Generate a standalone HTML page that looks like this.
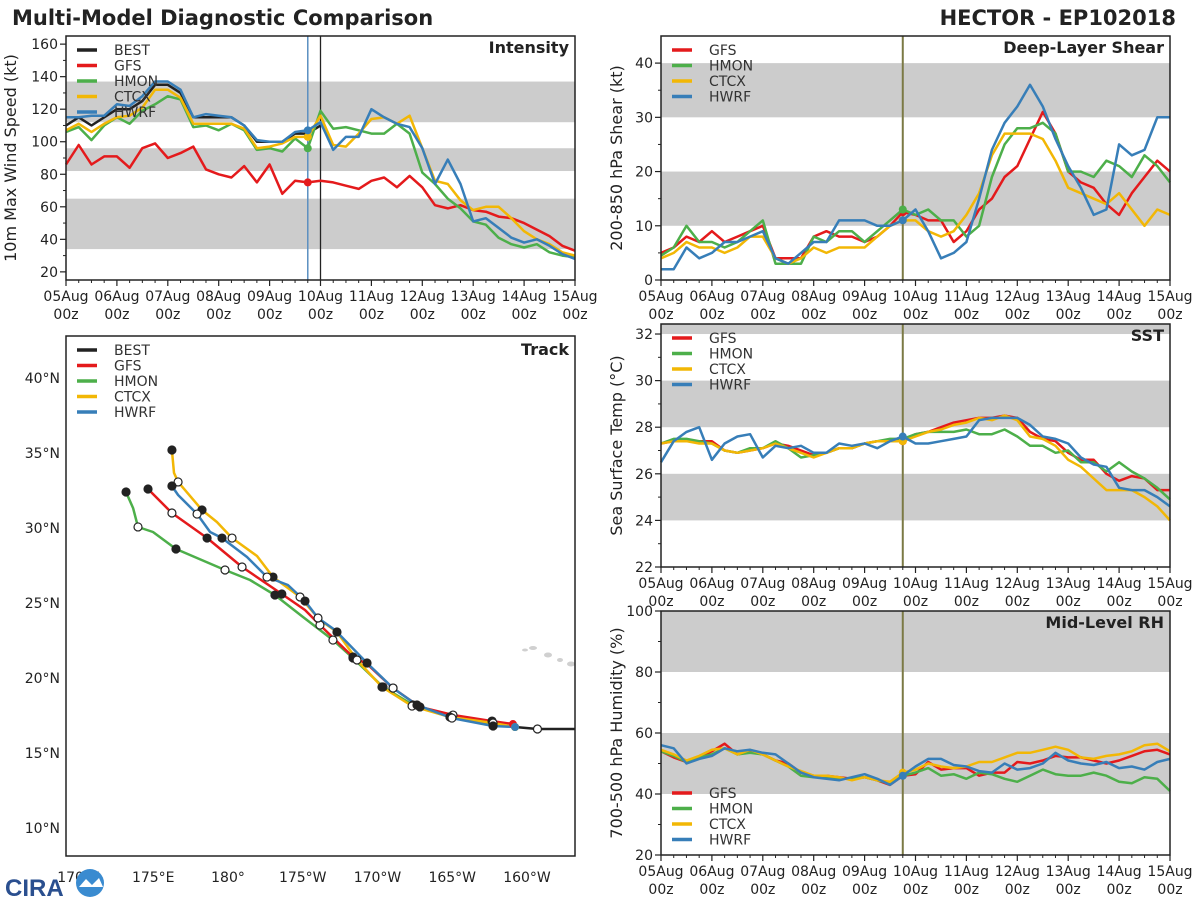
<!DOCTYPE html>
<html><head><meta charset="utf-8"><style>
body{margin:0;background:#fff;}
svg{display:block;font-family:"DejaVu Sans","Liberation Sans",sans-serif;}
</style></head><body>
<svg id="chart" width="1200" height="900" viewBox="0 0 1200 900" xmlns="http://www.w3.org/2000/svg">
<text x="12" y="25" font-size="21" font-weight="bold" fill="#222">Multi-Model Diagnostic Comparison</text>
<text x="1176" y="25" font-size="21" font-weight="bold" fill="#222" text-anchor="end">HECTOR - EP102018</text>
<g id="root"></g>
<g>
<text x="5" y="896" font-size="24" font-weight="bold" fill="#2a4f8f" font-family="Liberation Sans, sans-serif">CIRA</text>
<circle cx="90" cy="883" r="14" fill="#3a8bd0"/>
<path d="M79 887 L86 879 L92 885 L99 878 L103 887 Z" fill="#fff"/>
</g>
</svg>
<script>
const days=['05Aug','06Aug','07Aug','08Aug','09Aug','10Aug','11Aug','12Aug','13Aug','14Aug','15Aug'];
const models=['GFS','HMON','CTCX','HWRF'];
const colors={BEST:'#222222',GFS:'#e41a1c',HMON:'#4daf4a',CTCX:'#f2b705',HWRF:'#377eb8'};
const nowIndex=19;
// Intensity (kt)
const intBEST=[110,115,110,115,120,120,125,135,135,130,115,115,115,115,110,100,100,100,105,105,110];
const intGFS=[86,98,86,91,91,84,96,99,90,93,97,83,80,78,85,75,86,68,76,75,76,75,73,71,76,78,72,79,72,61,59,61,58,57,54,53,50,46,42,36,33];
const intHMON=[106,109,101,110,115,111,119,123,128,126,109,110,107,111,107,95,96,94,102,96,119,108,109,107,105,105,111,105,81,74,65,59,51,49,41,37,35,37,32,30,29];
const intCTCX=[107,111,106,111,115,116,121,132,132,127,111,111,111,111,108,96,97,99,103,103,116,98,97,105,114,115,111,116,96,76,74,64,58,60,60,53,45,40,37,32,30];
const intHWRF=[115,115,116,116,123,122,128,137,137,132,115,117,116,115,110,101,100,100,106,107,112,95,103,103,120,115,111,109,96,74,89,74,51,53,47,41,38,40,36,31,28];
const intTicks=[20,40,60,80,100,120,140,160];
// Shear (kt)
const shrGFS=[5,6,8,7,9,7,8,9,10,4,4,4,8,9,8,8,7,8,10,12.5,12,11,11,7,9,13,15,19,21,26,31,27,20,18,17,14,12,16,19,22,20];
const shrHMON=[4.5,6,10,7,7,6,7,9,11,3,3,3,8,7,9,9,7,9,11,13,12,13,11,11,8,10,19,25,28,28,29,27,20,20,19,22,21,19,23,21,18];
const shrCTCX=[4,5,7,6,6,5,6,8,8,4,3,4,6,5,6,6,6,8,10,11,11,9,8,9,12,16,23,27,27,27,26,22,17,16,15,14,16,13,10,13,12];
const shrHWRF=[2,2,6,4,5,7,7,8,9,4,3,5,7,7,11,11,11,10,10,11,13,9,4,5,7,15,24,29,32,36,32,26,21,17,12,13,25,23,24,30,30];
const shrTicks=[0,10,20,30,40];
// SST (C)
const sstGFS=[27.3,27.4,27.4,27.4,27.4,27.0,26.9,27.0,27.1,27.3,27.2,27.0,26.8,26.9,27.1,27.1,27.3,27.4,27.4,27.4,27.7,27.8,28.0,28.2,28.3,28.4,28.4,28.5,28.4,27.8,27.5,27.4,26.9,26.6,26.6,26.0,25.7,25.9,25.8,25.3,25.3];
const sstHMON=[27.3,27.5,27.5,27.4,27.3,27.0,26.9,27.1,27.1,27.4,27.1,26.7,26.8,26.9,27.1,27.1,27.3,27.4,27.5,27.5,27.7,27.8,27.8,27.8,27.9,27.7,27.7,27.9,27.6,27.2,27.2,26.9,27.0,26.5,26.5,26.1,26.5,26.1,25.8,25.4,24.9];
const sstCTCX=[27.3,27.4,27.4,27.3,27.3,27.0,26.9,27.0,27.1,27.3,27.1,26.9,26.7,26.9,27.1,27.1,27.3,27.4,27.4,27.4,27.6,27.8,27.9,28.1,28.2,28.4,28.3,28.5,28.3,27.6,27.5,27.2,26.6,26.3,25.8,25.3,25.3,25.3,25.0,24.6,24.0];
const sstHWRF=[26.5,27.4,27.8,28.0,26.6,27.3,27.6,27.7,26.7,27.2,27.1,27.2,26.9,26.9,27.3,27.2,27.3,27.1,27.4,27.6,27.3,27.3,27.4,27.5,27.6,28.3,28.4,28.4,28.4,28.1,27.6,27.5,27.3,26.7,26.4,26.3,25.4,25.3,25.3,25.0,24.6];
const sstTicks=[22,24,26,28,30,32];
// RH (%)
const rhGFS=[54,52,50.5,52,54,56.5,53,54,53,51,50,47,46,46,45.5,45,45.5,44.5,43,46,46.5,50.5,48,48.5,48.5,46,47,47,50.5,50,51,52.5,52,52,51,50,51,52.5,54,54.5,53];
const rhHMON=[54,52.5,50.5,52,53,55,53,53.5,53,51,49,46,45.5,45.5,45,45,45.5,44.5,43.5,46,47,48.5,46,46.5,45,47,46.5,45,44,46,48,46.5,46,46,47,46,44,43.5,45.5,45,41];
const rhCTCX=[54.5,53,51,52.5,54.5,55,53,54.5,53,51,49,47.5,46,46,45.5,44.5,45.5,44.5,44,47,48,50,49,48.5,49,50.5,50.5,52,53.5,53.5,54.5,55.5,54.5,52,51.5,52.5,53,54,56,56.5,54];
const rhHWRF=[56,55,50,51.5,52.5,55,54,54.5,53.5,53,50,47,45.5,45,44.5,45.5,46.5,45,43,46,49,51.5,51.5,49.5,49,47.5,47,50,48,48.5,50,53.5,51,50,49.5,50.5,48.5,49,48,50.5,51.5];
const rhTicks=[20,40,60,80,100];
// Track (lon degE, lat degN)
const trkBESTlon=[199.2,200.7,203.2];
const trkBESTlat=[16.73,16.6,16.6];
const trkGFSlon=[174.65,176.25,178.6,180.94,183.6,185.15,186.15,188.36,189.3,191.04,192.84,195.05,197.66,199.06];
const trkGFSlat=[32.6,31.0,29.33,27.4,25.6,24.53,23.53,21.4,20.93,19.33,18.07,17.53,17.13,16.93];
const trkHMONlon=[173.18,173.65,173.98,174.98,176.52,179.8,181.47,183.14,185.02,187.02,188.36,190.37,192.37,194.85,197.73,199.2];
const trkHMONlat=[32.4,31.33,30.07,29.73,28.6,27.2,26.53,25.53,24.07,22.53,21.33,19.4,18.2,17.4,16.87,16.73];
const trkCTCXlon=[176.25,176.39,176.66,178.26,179.26,180.27,181.94,183.01,184.82,186.15,187.29,188.63,190.3,192.31,194.85,197.73,199.2];
const trkCTCXlat=[35.2,33.67,33.07,31.2,30.4,29.33,28.13,26.73,25.4,23.87,23.07,21.2,19.4,18.13,17.4,17.0,16.73];
const trkHWRFlon=[176.25,176.66,177.93,178.8,179.6,181.27,182.61,184.01,185.15,186.02,187.16,189.3,191.04,192.64,194.98,197.73,199.2];
const trkHWRFlat=[32.8,32.2,30.93,29.73,29.33,28.07,26.73,26.2,25.13,24.0,23.2,21.0,19.33,18.2,17.33,16.8,16.73];
const lonTicks=[170,175,180,185,190,195,200];
const lonLabels=['170°E','175°E','180°','175°W','170°W','165°W','160°W'];
const latTicks=[10,15,20,25,30,35,40];

const NS='http://www.w3.org/2000/svg';
const root=document.getElementById('root');
function mk(tag,attrs,parent){const e=document.createElementNS(NS,tag);for(const k in attrs)e.setAttribute(k,attrs[k]);(parent||root).appendChild(e);return e;}
function txt(s,attrs,parent){const e=mk('text',attrs,parent);e.textContent=s;return e;}

function panel(cfg){
  const g=mk('g',{});
  
  
  const L=cfg.x0,R=cfg.x1,T=cfg.y0,B=cfg.y1;
  const xs=i=>L+(R-L)*i/40;
  const ys=v=>B-(v-cfg.ymin)/(cfg.ymax-cfg.ymin)*(B-T);
  cfg.bands.forEach(b=>{const r=mk('rect',{x:L,y:ys(Math.min(b[1],cfg.ymax)),width:R-L,height:ys(b[0])-ys(Math.min(b[1],cfg.ymax)),fill:'#cccccc'},g);
    });
  cfg.ticks.forEach(t=>{mk('line',{x1:L-6,x2:L,y1:ys(t),y2:ys(t),stroke:'#222','stroke-width':1.2},g);
    const tl=txt(String(t),{x:L-8,y:ys(t)+5,'font-size':14,'text-anchor':'end',fill:'#222'},g);
    });
  for(let k=0;k<cfg.ticks.length-1;k++){const m=(cfg.ticks[k]+cfg.ticks[k+1])/2;mk('line',{x1:L-3,x2:L,y1:ys(m),y2:ys(m),stroke:'#222'},g);}
  for(let i=0;i<=40;i++){const maj=i%4==0;mk('line',{x1:xs(i),x2:xs(i),y1:B,y2:B+(maj?6:3),stroke:'#222','stroke-width':maj?1.2:1},g);
    if(maj&&cfg.xlabels){const a=txt(days[i/4],{x:xs(i),y:B+21,'font-size':14,'text-anchor':'middle',fill:'#222'},g);
      
      txt('00z',{x:xs(i),y:B+39,'font-size':14,'text-anchor':'middle',fill:'#222'},g);}}
  const yl=txt(cfg.ylabel,{x:0,y:0,'font-size':16,'text-anchor':'middle',fill:'#222',transform:`translate(${cfg.ylx},${(T+B)/2}) rotate(-90)`},g);
  
  (cfg.vlines||[]).forEach(v=>{mk('line',{x1:xs(v[0]),x2:xs(v[0]),y1:T,y2:B,stroke:v[1],'stroke-width':v[2]},g);});
  cfg.series.forEach(s=>{
    const pts=s.data.map((v,i)=>xs(i).toFixed(1)+','+ys(v).toFixed(1)).join(' ');
    const pl=mk('polyline',{points:pts,fill:'none',stroke:colors[s.m],'stroke-width':2.5,'stroke-linejoin':'round'},g);
    
    if(s.m!=='BEST'&&s.data.length>nowIndex){const c=mk('circle',{cx:xs(nowIndex),cy:ys(s.data[nowIndex]),r:4,fill:colors[s.m]},g);
      }
  });
  mk('rect',{x:L,y:T,width:R-L,height:B-T,fill:'none',stroke:'#222','stroke-width':1.5},g);
  const tt=txt(cfg.title,{x:R-6,y:T+17,'font-size':16,'font-weight':'bold','text-anchor':'end',fill:'#222'},g);
  
  legend(g,cfg.legend,L+11,cfg.legY,cfg.legSp);
}
function legend(g,names,x,y,sp){
  const lg=mk('g',{},g);
  
  
  names.forEach((n,k)=>{mk('line',{x1:x,x2:x+20,y1:y+k*sp,y2:y+k*sp,stroke:colors[n],'stroke-width':3.5},lg);
    const e=txt(n,{x:x+37,y:y+k*sp+5,'font-size':14,fill:'#333'},lg);
    });
}
const seriesOf=(a,b,c,d)=>[{m:'GFS',data:a},{m:'HMON',data:b},{m:'CTCX',data:c},{m:'HWRF',data:d}];
const olive=[[nowIndex,'#7b7a45',2]];
panel({name:'intensity-panel',x0:66,x1:575,y0:36,y1:280,ymin:15,ymax:165,ticks:intTicks,bands:[[34,65],[82,96],[112,137]],
  ylabel:'10m Max Wind Speed (kt)',ylx:16,title:'Intensity',xlabels:true,
  vlines:[[nowIndex,'#5b8fc0',1.5],[20,'#222',1.3]],
  series:[{m:'BEST',data:intBEST}].concat(seriesOf(intGFS,intHMON,intCTCX,intHWRF)),legend:['BEST','GFS','HMON','CTCX','HWRF'],legY:50,legSp:15.5});
panel({name:'shear-panel',x0:661,x1:1170,y0:36,y1:280,ymin:0,ymax:45,ticks:shrTicks,bands:[[10,20],[30,40]],
  ylabel:'200-850 hPa Shear (kt)',ylx:622,title:'Deep-Layer Shear',xlabels:true,vlines:olive,
  series:seriesOf(shrGFS,shrHMON,shrCTCX,shrHWRF),legend:models,legY:50,legSp:15.5});
panel({name:'sst-panel',x0:661,x1:1170,y0:324,y1:567,ymin:22,ymax:32.43,ticks:sstTicks,bands:[[24,26],[28,30],[32,33]],
  ylabel:'Sea Surface Temp (°C)',ylx:622,title:'SST',xlabels:true,vlines:olive,
  series:seriesOf(sstGFS,sstHMON,sstCTCX,sstHWRF),legend:models,legY:338,legSp:15.5});
panel({name:'rh-panel',x0:661,x1:1170,y0:611,y1:855,ymin:20,ymax:100,ticks:rhTicks,bands:[[40,60],[80,100]],
  ylabel:'700-500 hPa Humidity (%)',ylx:622,title:'Mid-Level RH',xlabels:true,vlines:olive,
  series:seriesOf(rhGFS,rhHMON,rhCTCX,rhHWRF),legend:models,legY:793,legSp:15.5});

(function(){
  const g=mk('g',{});
  
  
  const L=66,R=575,T=336,B=856;
  const px=lon=>228+(lon-180)*14.95;
  const py=lat=>753-(lat-15)*15;
  [[525,650,3,1.5],[533,648,4,2],[548,655,4,2.5],[560,660,3,2],[571,664,4,2.5]].forEach(p=>{const e=mk('ellipse',{cx:p[0],cy:p[1],rx:p[2],ry:p[3],fill:'#d0d0d0'},g);});
  lonTicks.forEach((t,k)=>{const l=txt(lonLabels[k],{x:px(t),y:B+26,'font-size':14,'text-anchor':'middle',fill:'#222'},g);
    });
  latTicks.forEach(t=>{const l=txt(t+'°N',{x:L-6,y:py(t)+5,'font-size':14,'text-anchor':'end',fill:'#222'},g);
    });
  const tracks=[['HMON',trkHMONlon,trkHMONlat,[0,2,4,5,7,9,10,11,12,13,14]],
                ['GFS',trkGFSlon,trkGFSlat,[0,1,2,3,4,6,7,9,10,11,12]],
                ['CTCX',trkCTCXlon,trkCTCXlat,[0,2,3,5,7,8,10,11,12,13,14,15]],
                ['HWRF',trkHWRFlon,trkHWRFlat,[0,2,4,6,8,9,11,12,13,14,15]]];
  tracks.forEach(tk=>{
    const pts=tk[1].map((lo,i)=>px(lo).toFixed(1)+','+py(tk[2][i]).toFixed(1)).join(' ');
    const pl=mk('polyline',{points:pts,fill:'none',stroke:colors[tk[0]],'stroke-width':2.5,'stroke-linejoin':'round'},g);
    
  });
  const bp=trkBESTlon.map((lo,i)=>px(lo).toFixed(1)+','+py(trkBESTlat[i]).toFixed(1)).join(' ');
  const bl=mk('polyline',{points:bp,fill:'none',stroke:'#222','stroke-width':2.5},g);
  
  tracks.forEach(tk=>{
    const n=tk[1].length;
    tk[3].forEach((i,k)=>{const filled=k%2==0;
      const c=mk('circle',{cx:px(tk[1][i]),cy:py(tk[2][i]),r:4,fill:filled?'#222':'#fff',stroke:'#222','stroke-width':1.2},g);
      });
    mk('circle',{cx:px(tk[1][n-1]),cy:py(tk[2][n-1]),r:4,fill:colors[tk[0]]},g);
  });
  mk('circle',{cx:px(trkBESTlon[1]),cy:py(trkBESTlat[1]),r:4,fill:'#fff',stroke:'#222','stroke-width':1.2},g);
  mk('rect',{x:L,y:T,width:R-L,height:B-T,fill:'none',stroke:'#222','stroke-width':1.5},g);
  const tt=txt('Track',{x:R-6,y:T+19,'font-size':16,'font-weight':'bold','text-anchor':'end',fill:'#222'},g);
  
  legend(g,['BEST','GFS','HMON','CTCX','HWRF'],L+11,350,15.5);
})();
</script>
</body></html>
